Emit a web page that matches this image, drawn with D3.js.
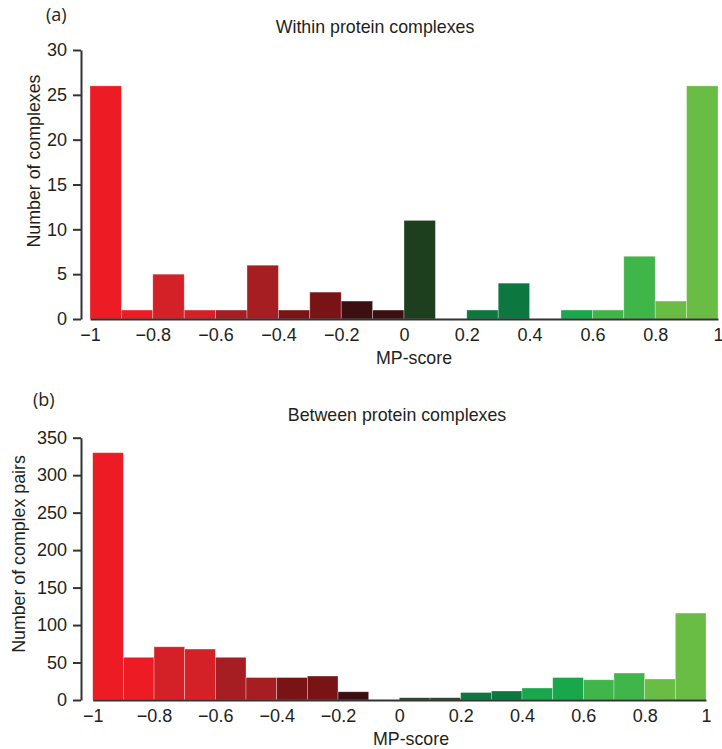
<!DOCTYPE html>
<html>
<head>
<meta charset="utf-8">
<script src="https://cdn.jsdelivr.net/npm/d3@7"></script>
<style>
  body { margin: 0; background: #fff; }
  svg text { font-family: "Liberation Sans", Arial, sans-serif; fill: #231f20; }
</style>
</head>
<body>
<div id="chart"></div>
<script>
// histogram bins of MP-score, width 0.1
var binStarts = [-1, -0.9, -0.8, -0.7, -0.6, -0.5, -0.4, -0.3, -0.2, -0.1,
                 0, 0.1, 0.2, 0.3, 0.4, 0.5, 0.6, 0.7, 0.8, 0.9];
var binWidth = 0.1;

// counts
var withinCounts  = [26, 1, 5, 1, 1, 6, 1, 3, 2, 1, 11, 0, 1, 4, 0, 1, 1, 7, 2, 26];
var betweenCounts = [330, 57, 71, 68, 57, 30, 30, 32, 11, 0, 3, 3, 10, 12, 16, 30, 27, 36, 28, 116];

var xTicks = [-1, -0.8, -0.6, -0.4, -0.2, 0, 0.2, 0.4, 0.6, 0.8, 1];
var withinYTicks = [0, 5, 10, 15, 20, 25, 30];
var betweenYTicks = [0, 50, 100, 150, 200, 250, 300, 350];

// one colour per 0.2 wide group
var palette = ["#ed1c24", "#d42027", "#a61e22", "#7a1315", "#3c1012",
               "#1d3f1d", "#0c773e", "#18a84b", "#40b54a", "#69bd45"];

var svg = d3.select("#chart").append("svg")
    .attr("width", 722)
    .attr("height", 749);

function drawPanel(p) {
    var x = d3.scaleLinear().domain([-1, 1]).range(p.xRange);
    var y = d3.scaleLinear().domain([0, p.yMax]).range(p.yRange);
    var g = svg.append("g");

    g.selectAll("rect.bar")
        .data(p.counts)
        .join("rect")
        .attr("class", "bar")
        .attr("x", (d, i) => x(binStarts[i]))
        .attr("width", (d, i) => x(binStarts[i] + binWidth) - x(binStarts[i]))
        .attr("y", d => y(d))
        .attr("height", d => y(0) - y(d))
        .attr("fill", (d, i) => palette[Math.floor(i / 2)])
        .attr("stroke", "#fff")
        .attr("stroke-opacity", 0.45)
        .attr("stroke-width", 0.7);

    var xAxis = g.append("g")
        .attr("transform", "translate(0," + y(0) + ")")
        .call(d3.axisBottom(x).tickValues(xTicks).tickSize(0).tickPadding(9)
            .tickFormat(d3.format("")));
    xAxis.select(".domain").attr("stroke", "#333").attr("stroke-width", 2);
    xAxis.selectAll("text").style("font-size", "18px");

    var yAxis = g.append("g")
        .attr("transform", "translate(" + p.yAxisX + ",0)")
        .call(d3.axisLeft(y).tickValues(p.yTicks).tickSize(8).tickSizeOuter(0).tickPadding(6));
    yAxis.select(".domain").attr("stroke", "#333").attr("stroke-width", 2);
    yAxis.selectAll(".tick line").attr("stroke", "#333").attr("stroke-width", 2);
    yAxis.selectAll("text").style("font-size", "18px");

    g.append("text")
        .attr("x", p.titleX).attr("y", p.titleY)
        .attr("text-anchor", "middle")
        .style("font-size", "17.8px")
        .text(p.title);

    g.append("text")
        .attr("x", p.tagX).attr("y", p.tagY)
        .style("font-family", "'Open Sans', sans-serif")
        .style("font-size", "18px")
        .text(p.tag);

    g.append("text")
        .attr("x", p.xLabelX).attr("y", p.xLabelY)
        .attr("text-anchor", "middle")
        .style("font-size", "17.8px")
        .text("MP-score");

    g.append("text")
        .attr("transform", "translate(" + p.yLabelX + "," + p.yLabelY + ") rotate(-90)")
        .attr("text-anchor", "middle")
        .style("font-size", "17.8px")
        .text(p.yLabel);
}

drawPanel({
    counts: withinCounts, yMax: 30, yTicks: withinYTicks,
    xRange: [90, 718], yRange: [319, 50], yAxisX: 81,
    title: "Within protein complexes", titleX: 375, titleY: 33,
    tag: "(a)", tagX: 46, tagY: 21,
    xLabelX: 414, xLabelY: 364,
    yLabel: "Number of complexes", yLabelX: 40, yLabelY: 161
});

drawPanel({
    counts: betweenCounts, yMax: 350, yTicks: betweenYTicks,
    xRange: [92.7, 706], yRange: [700, 437.7], yAxisX: 81,
    title: "Between protein complexes", titleX: 397, titleY: 421,
    tag: "(b)", tagX: 33, tagY: 406,
    xLabelX: 411, xLabelY: 745,
    yLabel: "Number of complex pairs", yLabelX: 25, yLabelY: 554
});
</script>
</body>
</html>
